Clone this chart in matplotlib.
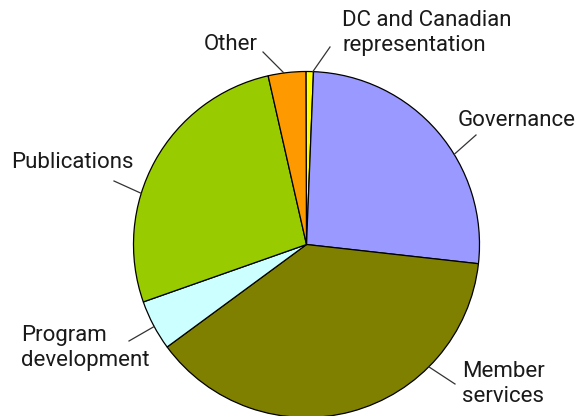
import numpy as np
import matplotlib
matplotlib.use("Agg")
import matplotlib.pyplot as plt

# Data (clockwise from the top)
categories = ["DC and Canadian\nrepresentation", "Governance", "Member\nservices",
              "Program\ndevelopment", "Publications", "Other"]
shares = [0.7, 26.1, 38.1, 4.7, 26.8, 3.5]
colors = ["#FFFF00", "#9999FF", "#808000", "#CCFFFF", "#99CC00", "#FF9900"]

W, H = 582, 416
fig = plt.figure(figsize=(W / 100, H / 100), dpi=100)
ax = fig.add_axes([0, 0, 1, 1])

cx, cy, r = 306.5, H - 244.5, 173
ax.pie(shares, colors=colors, startangle=90.2, counterclock=False,
       center=(cx, cy), radius=r,
       wedgeprops=dict(edgecolor="black", linewidth=0.9))
ax.set_xlim(0, W)
ax.set_ylim(0, H)
ax.set_aspect("equal")
ax.axis("off")

# label layout: (angle of leader on the rim, leader outer end, text pos, ha)
layout = [
    (87.9, (330, 47), (342, 33), "left"),
    (31.4, (476, 135), (458, 120), "left"),
    (-45.0, (455, 384), (462, 384), "left"),
    (208.3, (129, 341), (21, 348), "left"),
    (162.8, (114, 181), (11, 162), "left"),
    (97.5, (263, 52), (258, 45), "right"),
]

for label, (ang, end, tpos, ha) in zip(categories, layout):
    a = np.deg2rad(ang)
    x0, y0 = cx + r * np.cos(a), cy + r * np.sin(a)
    ax.plot([x0, end[0]], [y0, H - end[1]], color="#333333", linewidth=0.9)
    ax.text(tpos[0], H - tpos[1], label, ha=ha, va="center", fontsize=16,
            family="Roboto", color="#1a1a1a", linespacing=1.27)

fig.savefig("out.png", dpi=100)
